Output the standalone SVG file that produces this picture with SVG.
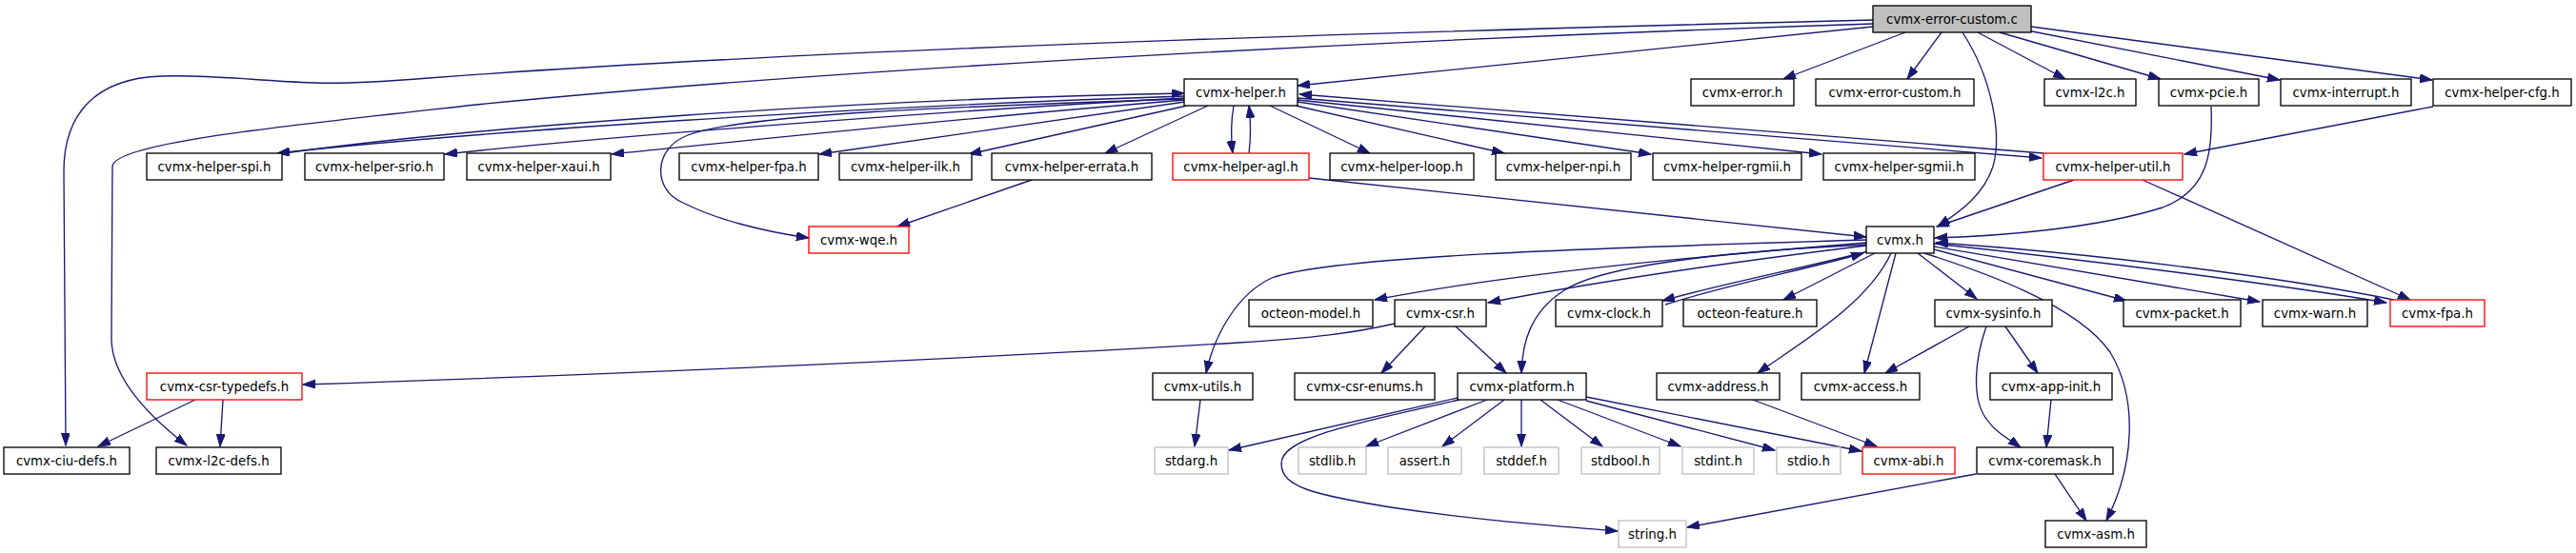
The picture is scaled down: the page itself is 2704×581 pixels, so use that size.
<svg xmlns="http://www.w3.org/2000/svg" width="2704" height="581" viewBox="0 0 2704 581">
<style>
.n rect{fill:#fff;stroke:#000;stroke-width:1.33}
.n.r rect{stroke:#ff0000}
.n.g rect{stroke:#bfbfbf}
.n.root rect{fill:#bfbfbf}
.n text{font-family:"DejaVu Sans",sans-serif;font-size:13.33px;text-anchor:middle;fill:#000}
.e path{fill:none;stroke:#191970;stroke-width:1.33;marker-end:url(#a)}
</style>
<defs>
<marker id="a" markerUnits="userSpaceOnUse" markerWidth="14" markerHeight="10" refX="13" refY="4.5" orient="auto">
<path d="M0,0 L13,4.5 L0,9 z" fill="#191970" stroke="#191970" stroke-width="1"/>
</marker>
</defs>
<rect width="2704" height="581" fill="#fff"/>
<g id="edges" class="e">
<path d="M1966,21 C1600,30 900,48 450,82 C400,86 360,88 330,87 C270,85 220,78 170,80 C100,82 67,120 67,180 L69,468"/>
<path d="M1966,25 C1500,40 900,70 500,110 C300,132 118,150 118,175 L117,357 C118,400 160,440 196,468"/>
<path d="M1966,28 L1362,90"/>
<path d="M2000,34 L1872,83"/>
<path d="M2038,34 L2002,83"/>
<path d="M2076,34 L2168,83"/>
<path d="M2099,34 L2268,83"/>
<path d="M2128,32 L2393,84"/>
<path d="M2132,28 L2553,84"/>
<path d="M2060,34 C2090,80 2102,140 2092,175 C2082,205 2058,222 2034,238"/>
<path d="M2554,112 L2293,162"/>
<path d="M2321,112 C2323,160 2318,200 2270,218 C2200,240 2100,248 2031,250"/>
<path d="M2177,189 L2033,238"/>
<path d="M2249,189 L2530,315"/>
<path d="M1243,101 C900,112 500,138 291,161"/>
<path d="M298,161 C500,133 900,104 1243,98"/>
<path d="M1243,103 C1000,116 650,142 467,162"/>
<path d="M1244,105 C1000,125 800,146 642,162"/>
<path d="M1244,107 L860,162"/>
<path d="M1246,111 L1017,162"/>
<path d="M1268,111 L1160,161"/>
<path d="M1295,111 C1292,128 1292,145 1294,161"/>
<path d="M1311,161 C1313,145 1313,128 1311,111"/>
<path d="M1333,111 L1438,161"/>
<path d="M1360,111 L1579,161"/>
<path d="M1362,107 L1733,162"/>
<path d="M1362,105 L1912,162"/>
<path d="M1362,103 L2143,166"/>
<path d="M2145,161 L1364,99"/>
<path d="M1243,104 C1000,112 780,120 722,142 C685,156 685,200 717,213 C750,230 800,243 849,250"/>
<path d="M1083,189 L942,238"/>
<path d="M1374,187 L1959,249"/>
<path d="M1959,252 C1700,260 1400,268 1335,292 C1300,308 1275,350 1266,392"/>
<path d="M1959,255 C1800,268 1600,285 1443,315"/>
<path d="M1959,258 C1820,275 1680,295 1562,318"/>
<path d="M1959,257 C1800,265 1680,280 1642,305 C1606,328 1598,360 1597,392"/>
<path d="M1961,264 C1900,280 1800,300 1745,316"/>
<path d="M1748,320 C1810,300 1900,282 1956,266"/>
<path d="M1968,266 L1872,315"/>
<path d="M1985,266 C1960,320 1890,360 1845,392"/>
<path d="M1990,266 L1957,392"/>
<path d="M2013,266 L2075,314"/>
<path d="M2030,262 L2232,316"/>
<path d="M2030,259 L2372,317"/>
<path d="M2030,256 C2200,274 2400,300 2505,318"/>
<path d="M2513,315 C2400,292 2200,266 2032,255"/>
<path d="M2020,266 C2080,285 2180,320 2215,370 C2245,420 2240,490 2211,547"/>
<path d="M1464,340 C1420,350 1380,355 1300,360 C1000,378 600,395 318,404"/>
<path d="M1496,343 L1450,392"/>
<path d="M1528,343 L1581,392"/>
<path d="M205,420 L103,469"/>
<path d="M234,420 L231,469"/>
<path d="M1260,420 L1254,469"/>
<path d="M1530,418 L1290,473"/>
<path d="M1561,420 L1434,469"/>
<path d="M1579,420 L1514,469"/>
<path d="M1597,420 L1597,469"/>
<path d="M1617,420 L1682,469"/>
<path d="M1635,420 L1764,469"/>
<path d="M1665,421 L1863,473"/>
<path d="M1665,417 L1954,474"/>
<path d="M1532,420 C1420,445 1345,460 1345,487 C1345,512 1380,520 1460,533 C1560,548 1640,553 1698,558"/>
<path d="M1840,420 L1970,469"/>
<path d="M2067,343 L1979,392"/>
<path d="M2105,343 L2139,392"/>
<path d="M2085,343 C2072,380 2070,420 2085,440 C2095,455 2110,462 2121,470"/>
<path d="M2153,420 L2148,470"/>
<path d="M2157,498 L2190,547"/>
<path d="M2074,498 L1771,554"/>
</g>
<g id="n_root" class="n root"><rect x="1966" y="6" width="166" height="28"/><text x="2049" y="24.7">cvmx-error-custom.c</text></g>
<g id="n_helper" class="n"><rect x="1243" y="83" width="119" height="28"/><text x="1302.5" y="101.7">cvmx-helper.h</text></g>
<g id="n_error" class="n"><rect x="1775" y="83" width="108" height="28"/><text x="1829" y="101.7">cvmx-error.h</text></g>
<g id="n_errcust" class="n"><rect x="1906" y="83" width="166" height="28"/><text x="1989" y="101.7">cvmx-error-custom.h</text></g>
<g id="n_l2c" class="n"><rect x="2146" y="83" width="96" height="28"/><text x="2194" y="101.7">cvmx-l2c.h</text></g>
<g id="n_pcie" class="n"><rect x="2266" y="83" width="105" height="28"/><text x="2318.5" y="101.7">cvmx-pcie.h</text></g>
<g id="n_interrupt" class="n"><rect x="2394" y="83" width="137" height="28"/><text x="2462.5" y="101.7">cvmx-interrupt.h</text></g>
<g id="n_helpercfg" class="n"><rect x="2554" y="83" width="145" height="28"/><text x="2626.5" y="101.7">cvmx-helper-cfg.h</text></g>
<g id="n_spi" class="n"><rect x="154" y="161" width="142" height="28"/><text x="225" y="179.7">cvmx-helper-spi.h</text></g>
<g id="n_srio" class="n"><rect x="320" y="161" width="146" height="28"/><text x="393" y="179.7">cvmx-helper-srio.h</text></g>
<g id="n_xaui" class="n"><rect x="490" y="161" width="151" height="28"/><text x="565.5" y="179.7">cvmx-helper-xaui.h</text></g>
<g id="n_hfpa" class="n"><rect x="713" y="161" width="146" height="28"/><text x="786" y="179.7">cvmx-helper-fpa.h</text></g>
<g id="n_ilk" class="n"><rect x="881" y="161" width="139" height="28"/><text x="950.5" y="179.7">cvmx-helper-ilk.h</text></g>
<g id="n_errata" class="n"><rect x="1041" y="161" width="168" height="28"/><text x="1125" y="179.7">cvmx-helper-errata.h</text></g>
<g id="n_agl" class="n r"><rect x="1231" y="161" width="143" height="28"/><text x="1302.5" y="179.7">cvmx-helper-agl.h</text></g>
<g id="n_loop" class="n"><rect x="1396" y="161" width="151" height="28"/><text x="1471.5" y="179.7">cvmx-helper-loop.h</text></g>
<g id="n_npi" class="n"><rect x="1570" y="161" width="142" height="28"/><text x="1641" y="179.7">cvmx-helper-npi.h</text></g>
<g id="n_rgmii" class="n"><rect x="1735" y="161" width="156" height="28"/><text x="1813" y="179.7">cvmx-helper-rgmii.h</text></g>
<g id="n_sgmii" class="n"><rect x="1914" y="161" width="159" height="28"/><text x="1993.5" y="179.7">cvmx-helper-sgmii.h</text></g>
<g id="n_util" class="n r"><rect x="2145" y="161" width="146" height="28"/><text x="2218" y="179.7">cvmx-helper-util.h</text></g>
<g id="n_wqe" class="n r"><rect x="849" y="238" width="105" height="28"/><text x="901.5" y="256.7">cvmx-wqe.h</text></g>
<g id="n_cvmx" class="n"><rect x="1959" y="238" width="71" height="28"/><text x="1994.5" y="256.7">cvmx.h</text></g>
<g id="n_omodel" class="n"><rect x="1311" y="315" width="130" height="28"/><text x="1376" y="333.7">octeon-model.h</text></g>
<g id="n_csr" class="n"><rect x="1464" y="315" width="96" height="28"/><text x="1512" y="333.7">cvmx-csr.h</text></g>
<g id="n_clock" class="n"><rect x="1633" y="315" width="112" height="28"/><text x="1689" y="333.7">cvmx-clock.h</text></g>
<g id="n_ofeature" class="n"><rect x="1767" y="315" width="140" height="28"/><text x="1837" y="333.7">octeon-feature.h</text></g>
<g id="n_sysinfo" class="n"><rect x="2031" y="315" width="123" height="28"/><text x="2092.5" y="333.7">cvmx-sysinfo.h</text></g>
<g id="n_packet" class="n"><rect x="2229" y="315" width="123" height="28"/><text x="2290.5" y="333.7">cvmx-packet.h</text></g>
<g id="n_warn" class="n"><rect x="2375" y="315" width="110" height="28"/><text x="2430" y="333.7">cvmx-warn.h</text></g>
<g id="n_fpa" class="n r"><rect x="2509" y="315" width="99" height="28"/><text x="2558.5" y="333.7">cvmx-fpa.h</text></g>
<g id="n_typedefs" class="n r"><rect x="154" y="392" width="163" height="28"/><text x="235.5" y="410.7">cvmx-csr-typedefs.h</text></g>
<g id="n_utils" class="n"><rect x="1210" y="392" width="105" height="28"/><text x="1262.5" y="410.7">cvmx-utils.h</text></g>
<g id="n_enums" class="n"><rect x="1359" y="392" width="147" height="28"/><text x="1432.5" y="410.7">cvmx-csr-enums.h</text></g>
<g id="n_platform" class="n"><rect x="1530" y="392" width="135" height="28"/><text x="1597.5" y="410.7">cvmx-platform.h</text></g>
<g id="n_address" class="n"><rect x="1739" y="392" width="129" height="28"/><text x="1803.5" y="410.7">cvmx-address.h</text></g>
<g id="n_access" class="n"><rect x="1891" y="392" width="124" height="28"/><text x="1953" y="410.7">cvmx-access.h</text></g>
<g id="n_appinit" class="n"><rect x="2089" y="392" width="128" height="28"/><text x="2153" y="410.7">cvmx-app-init.h</text></g>
<g id="n_ciu" class="n"><rect x="4" y="470" width="132" height="28"/><text x="70" y="488.7">cvmx-ciu-defs.h</text></g>
<g id="n_l2cdefs" class="n"><rect x="164" y="470" width="131" height="28"/><text x="229.5" y="488.7">cvmx-l2c-defs.h</text></g>
<g id="n_stdarg" class="n g"><rect x="1212" y="470" width="77" height="28"/><text x="1250.5" y="488.7">stdarg.h</text></g>
<g id="n_stdlib" class="n g"><rect x="1363" y="470" width="71" height="28"/><text x="1398.5" y="488.7">stdlib.h</text></g>
<g id="n_assert" class="n g"><rect x="1457" y="470" width="77" height="28"/><text x="1495.5" y="488.7">assert.h</text></g>
<g id="n_stddef" class="n g"><rect x="1558" y="470" width="78" height="28"/><text x="1597" y="488.7">stddef.h</text></g>
<g id="n_stdbool" class="n g"><rect x="1660" y="470" width="82" height="28"/><text x="1701" y="488.7">stdbool.h</text></g>
<g id="n_stdint" class="n g"><rect x="1766" y="470" width="75" height="28"/><text x="1803.5" y="488.7">stdint.h</text></g>
<g id="n_stdio" class="n g"><rect x="1865" y="470" width="67" height="28"/><text x="1898.5" y="488.7">stdio.h</text></g>
<g id="n_abi" class="n r"><rect x="1955" y="470" width="97" height="28"/><text x="2003.5" y="488.7">cvmx-abi.h</text></g>
<g id="n_coremask" class="n"><rect x="2075" y="470" width="143" height="28"/><text x="2146.5" y="488.7">cvmx-coremask.h</text></g>
<g id="n_string" class="n g"><rect x="1699" y="547" width="71" height="28"/><text x="1734.5" y="565.7">string.h</text></g>
<g id="n_asm" class="n"><rect x="2147" y="547" width="106" height="28"/><text x="2200" y="565.7">cvmx-asm.h</text></g>
</svg>
